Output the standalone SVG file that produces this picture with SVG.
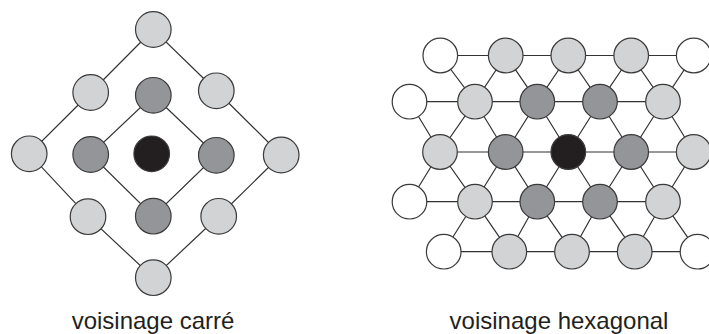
<svg xmlns="http://www.w3.org/2000/svg" width="709" height="334" viewBox="0 0 709 334">
<style>
.e{fill:none;stroke:#333;stroke-width:1.2}
circle{stroke:#3a3a3a;stroke-width:1.2}
.w{fill:#fff}.l{fill:#d1d3d4}.d{fill:#939598}.b{fill:#231f20}
text{font-family:"Liberation Sans",Arial,sans-serif;font-size:24px;fill:#231f20;text-anchor:middle}
</style>
<g id="connectors">
<path class="e" d="M153.3 29.5L90.7 92.5L29.2 153.8L88 216.7L153.3 277.7L218.7 216.3L281.2 155L216.3 90.8Z"/>
<path class="e" d="M153.3 95.3L216.3 155.3L153.3 216.2L90.7 154.5Z"/>
<path class="e" d="M440.3 55.5H693.7M409.5 101.7H663M440 152H693.7M409.5 201.7H663M443.7 251.7H697.5"/>
<path class="e" d="M440.3 55.5L475 101.7M505.7 55.5L475 101.7M505.7 55.5L537.3 101.7M568.3 55.5L537.3 101.7M568.3 55.5L600 101.7M631.2 55.5L600 101.7M631.2 55.5L663 101.7M693.7 55.5L663 101.7"/>
<path class="e" d="M409.5 101.7L440 152M475 101.7L440 152M475 101.7L505.7 152M537.3 101.7L505.7 152M537.3 101.7L568.3 152M600 101.7L568.3 152M600 101.7L631.2 152M663 101.7L631.2 152M663 101.7L693.7 152"/>
<path class="e" d="M440 152L409.5 201.7M440 152L475 201.7M505.7 152L475 201.7M505.7 152L537.3 201.7M568.3 152L537.3 201.7M568.3 152L600 201.7M631.2 152L600 201.7M631.2 152L663 201.7M693.7 152L663 201.7"/>
<path class="e" d="M475 201.7L443.7 251.7M475 201.7L509.3 251.7M537.3 201.7L509.3 251.7M537.3 201.7L572 251.7M600 201.7L572 251.7M600 201.7L634.7 251.7M663 201.7L634.7 251.7M663 201.7L697.5 251.7"/>
</g>
<g id="square">
<g id="sq-top"><circle class="l" cx="153.3" cy="29.5" r="17.8"/></g>
<g id="sq-nw"><circle class="l" cx="90.7" cy="92.5" r="17.8"/></g>
<g id="sq-n"><circle class="d" cx="153.3" cy="95.3" r="17.8"/></g>
<g id="sq-ne"><circle class="l" cx="216.3" cy="90.8" r="17.8"/></g>
<g id="sq-left"><circle class="l" cx="29.2" cy="153.8" r="17.8"/></g>
<g id="sq-w"><circle class="d" cx="90.7" cy="154.5" r="17.8"/></g>
<g id="sq-center"><circle class="b" cx="151.7" cy="153.8" r="17.8"/></g>
<g id="sq-e"><circle class="d" cx="216.3" cy="155.3" r="17.8"/></g>
<g id="sq-right"><circle class="l" cx="281.2" cy="155" r="17.8"/></g>
<g id="sq-sw"><circle class="l" cx="88" cy="216.7" r="17.8"/></g>
<g id="sq-s"><circle class="d" cx="153.3" cy="216.2" r="17.8"/></g>
<g id="sq-se"><circle class="l" cx="218.7" cy="216.3" r="17.8"/></g>
<g id="sq-bottom"><circle class="l" cx="153.3" cy="277.7" r="17.8"/></g>
</g>
<g id="hex">
<g id="h00"><circle class="w" cx="440.3" cy="55.5" r="17.3"/></g>
<g id="h01"><circle class="l" cx="505.7" cy="55.5" r="17.3"/></g>
<g id="h02"><circle class="l" cx="568.3" cy="55.5" r="17.3"/></g>
<g id="h03"><circle class="l" cx="631.2" cy="55.5" r="17.3"/></g>
<g id="h04"><circle class="w" cx="693.7" cy="55.5" r="17.3"/></g>
<g id="h10"><circle class="w" cx="409.5" cy="101.7" r="17.3"/></g>
<g id="h11"><circle class="l" cx="475" cy="101.7" r="17.3"/></g>
<g id="h12"><circle class="d" cx="537.3" cy="101.7" r="17.3"/></g>
<g id="h13"><circle class="d" cx="600" cy="101.7" r="17.3"/></g>
<g id="h14"><circle class="l" cx="663" cy="101.7" r="17.3"/></g>
<g id="h20"><circle class="l" cx="440" cy="152" r="17.3"/></g>
<g id="h21"><circle class="d" cx="505.7" cy="152" r="17.3"/></g>
<g id="h22"><circle class="b" cx="568.3" cy="152" r="17.3"/></g>
<g id="h23"><circle class="d" cx="631.2" cy="152" r="17.3"/></g>
<g id="h24"><circle class="l" cx="693.7" cy="152" r="17.3"/></g>
<g id="h30"><circle class="w" cx="409.5" cy="201.7" r="17.3"/></g>
<g id="h31"><circle class="l" cx="475" cy="201.7" r="17.3"/></g>
<g id="h32"><circle class="d" cx="537.3" cy="201.7" r="17.3"/></g>
<g id="h33"><circle class="d" cx="600" cy="201.7" r="17.3"/></g>
<g id="h34"><circle class="l" cx="663" cy="201.7" r="17.3"/></g>
<g id="h40"><circle class="w" cx="443.7" cy="251.7" r="17.3"/></g>
<g id="h41"><circle class="l" cx="509.3" cy="251.7" r="17.3"/></g>
<g id="h42"><circle class="l" cx="572" cy="251.7" r="17.3"/></g>
<g id="h43"><circle class="l" cx="634.7" cy="251.7" r="17.3"/></g>
<g id="h44"><circle class="w" cx="697.5" cy="251.7" r="17.3"/></g>
</g>
<text x="153" y="329">voisinage carré</text>
<text x="559" y="329">voisinage hexagonal</text>
</svg>
